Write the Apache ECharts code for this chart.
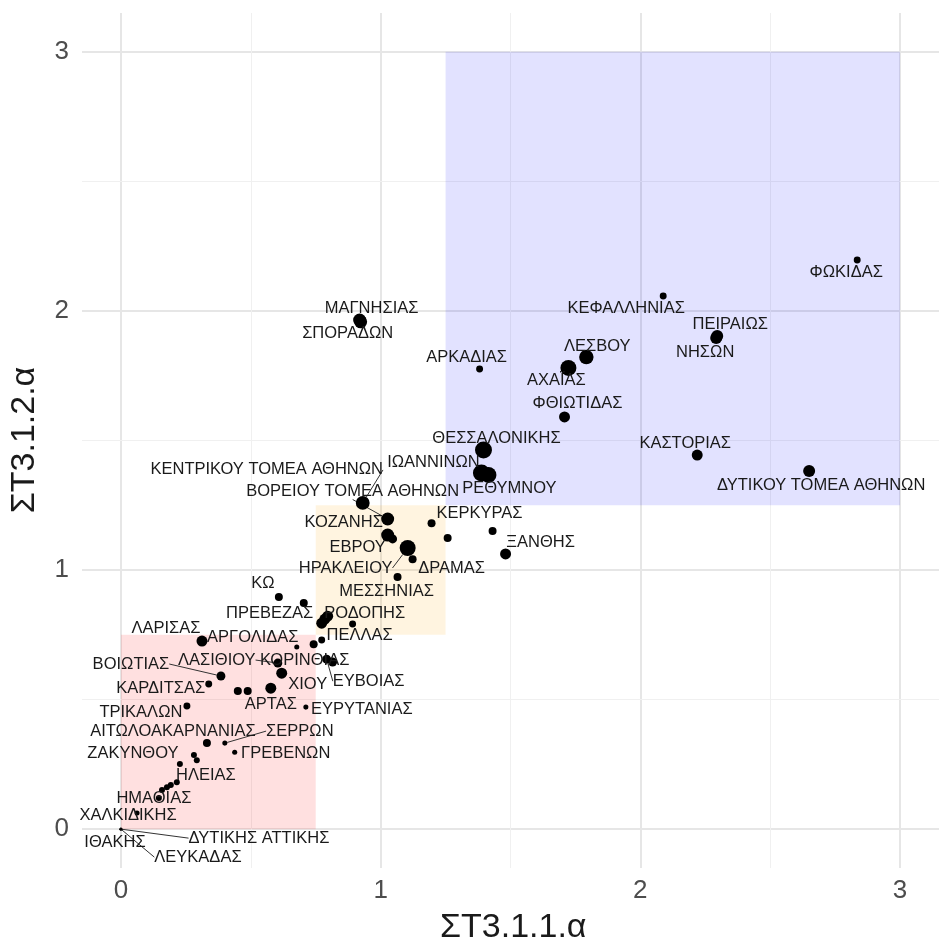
<!DOCTYPE html>
<html>
<head>
<meta charset="utf-8">
<script src="https://cdn.jsdelivr.net/npm/echarts@6/dist/echarts.min.js"></script>
<style>
html,body{margin:0;padding:0;background:#fff;}
#chart{width:939px;height:945px;}
</style>
</head>
<body>
<div id="chart"></div>
<script>
// ---- data ----
const names = ["ΦΩΚΙΔΑΣ","ΚΕΦΑΛΛΗΝΙΑΣ","ΠΕΙΡΑΙΩΣ","ΝΗΣΩΝ","ΛΕΣΒΟΥ","ΑΧΑΪΑΣ","ΑΡΚΑΔΙΑΣ","ΦΘΙΩΤΙΔΑΣ",
"ΘΕΣΣΑΛΟΝΙΚΗΣ","ΙΩΑΝΝΙΝΩΝ","ΡΕΘΥΜΝΟΥ","ΚΑΣΤΟΡΙΑΣ","ΔΥΤΙΚΟΥ ΤΟΜΕΑ ΑΘΗΝΩΝ","ΜΑΓΝΗΣΙΑΣ","ΣΠΟΡΑΔΩΝ",
"ΚΕΝΤΡΙΚΟΥ ΤΟΜΕΑ ΑΘΗΝΩΝ","ΒΟΡΕΙΟΥ ΤΟΜΕΑ ΑΘΗΝΩΝ","ΚΟΖΑΝΗΣ","ΕΒΡΟΥ","ΗΡΑΚΛΕΙΟΥ","ΔΡΑΜΑΣ","ΜΕΣΣΗΝΙΑΣ",
"ΚΕΡΚΥΡΑΣ","","","ΞΑΝΘΗΣ","ΚΩ","","ΡΟΔΟΠΗΣ","ΠΡΕΒΕΖΑΣ","","","ΠΕΛΛΑΣ","","ΑΡΓΟΛΙΔΑΣ","ΛΑΡΙΣΑΣ",
"ΛΑΣΙΘΙΟΥ","ΚΟΡΙΝΘΙΑΣ","ΕΥΒΟΙΑΣ","ΧΙΟΥ","ΑΡΤΑΣ","","","ΚΑΡΔΙΤΣΑΣ","ΒΟΙΩΤΙΑΣ","ΕΥΡΥΤΑΝΙΑΣ","ΤΡΙΚΑΛΩΝ",
"ΑΙΤΩΛΟΑΚΑΡΝΑΝΙΑΣ","ΣΕΡΡΩΝ","ΓΡΕΒΕΝΩΝ","ΖΑΚΥΝΘΟΥ","","ΗΛΕΙΑΣ","","","","","ΗΜΑΘΙΑΣ","ΧΑΛΚΙΔΙΚΗΣ",
"ΙΘΑΚΗΣ","ΔΥΤΙΚΗΣ ΑΤΤΙΚΗΣ","ΛΕΥΚΑΔΑΣ"];
const st311a = [2.835,2.088,2.296,2.292,1.792,1.723,1.381,1.708,
1.396,1.388,1.415,2.219,2.650,0.919,0.923,
0.931,1.027,1.027,1.046,1.104,1.123,1.065,
1.196,1.258,1.431,1.481,0.608,0.704,0.796,0.773,0.785,0.892,0.773,0.742,0.677,0.312,
0.604,0.815,0.792,0.619,0.577,0.450,0.488,0.338,0.385,0.712,0.254,
0.331,0.400,0.438,0.281,0.292,0.227,0.215,0.192,0.177,0.158,0.146,0.062,
0,0,0];
const st312a = [2.197,2.058,1.903,1.896,1.822,1.780,1.776,1.591,
1.463,1.375,1.367,1.444,1.382,1.965,1.958,
1.259,1.197,1.135,1.120,1.085,1.042,0.973,
1.181,1.124,1.151,1.062,0.896,0.873,0.822,0.795,0.811,0.792,0.730,0.714,0.703,0.726,
0.641,0.645,0.656,0.602,0.544,0.533,0.533,0.560,0.591,0.471,0.475,
0.332,0.332,0.297,0.286,0.266,0.251,0.181,0.170,0.162,0.151,0.120,0.062,
0,0,0];
const magnitude = [3,3,9,9,13,16,3,7.5,
18,18,16,7.5,9,10.5,10.5,
12,10.5,10.5,5,16,4,4,
4,4,4,7.5,4,4,7.5,7.5,7.5,3,3,4,1.6,7.5,
5,5,5,7.5,7.5,4,4,3,5,1.6,3,
4,1.6,1.6,2.25,2.25,2.25,2.25,2.25,2.25,2.25,2.25,1.6,
0.5,0.5,0.5];
const xTicks = [0,1,2,3];
const yTicks = [0,1,2,3];
const minorTicks = [0.5,1.5,2.5];
const zones = [
  {x:[1.25,3], y:[1.25,3], color:'rgba(0,0,255,0.115)'},
  {x:[0.75,1.25], y:[0.75,1.25], color:'rgba(255,165,0,0.12)'},
  {x:[0,0.75], y:[0,0.75], color:'rgba(255,0,0,0.12)'}
];

// ---- label layout (pixel shifts of label centre from point, like ggrepel) ----
const labelShift = [[-11,13],[-37,13],[13,-12],[-11,15],[11,-11],[-12,12],[-13,-12],[13,-13],
[13,-12],[-48,-10],[21,13],[-12,-12],[12,14],[12,-12],[-13,12],
[-96,-33],[-35,-28],[-44,-13],[-35,8],[-62,20],[39,9],[-11,14],
[48,-10],[0,0],[0,0],[35,-12],[-16,-14],[0,0],[37,-3],[-52,-10],[0,0],[0,0],[38,-5],[0,0],[-44,-10],[-36,-13],
[-61,-3],[-28,-2],[42,22],[26,11],[0,16],[0,0],[0,0],[-48,4],[-90,-12],[56,2],[-46,6],
[-34,-12],[75,-12],[51,1],[-61,-2],[0,0],[26,11],[0,0],[0,0],[0,0],[0,0],[-5,0],[-9,2],
[-6,13],[138,9],[77,28]];
const withLeader = ["ΚΕΝΤΡΙΚΟΥ ΤΟΜΕΑ ΑΘΗΝΩΝ","ΒΟΡΕΙΟΥ ΤΟΜΕΑ ΑΘΗΝΩΝ","ΗΡΑΚΛΕΙΟΥ","ΛΑΣΙΘΙΟΥ","ΕΥΒΟΙΑΣ",
"ΒΟΙΩΤΙΑΣ","ΣΕΡΡΩΝ","ΔΥΤΙΚΗΣ ΑΤΤΙΚΗΣ","ΛΕΥΚΑΔΑΣ"];

const points = names.map((n,i)=>({
  name:n,
  value:[st311a[i], st312a[i], magnitude[i]],
  label:{show: n !== ''},
  labelLine:{show: withLeader.indexOf(n) >= 0}
}));

const FONT = '"Liberation Sans", Arial, sans-serif';
const chart = echarts.init(document.getElementById('chart'), null, {renderer:'canvas'});
const majorStyle = {color:'#e6e6e6', width:2, type:'solid'};
const minorStyle = {color:'#f0f0f0', width:1, type:'solid'};

const gridLines = []
  .concat(xTicks.map(v=>({xAxis:v, lineStyle:majorStyle})))
  .concat(yTicks.map(v=>({yAxis:v, lineStyle:majorStyle})))
  .concat(minorTicks.map(v=>({xAxis:v, lineStyle:minorStyle})))
  .concat(minorTicks.map(v=>({yAxis:v, lineStyle:minorStyle})));

chart.setOption({
  animation:false,
  backgroundColor:'#ffffff',
  grid:{left:82, top:13, width:858, height:855, containLabel:false},
  xAxis:{
    type:'value', min:-0.15, max:3.15,
    axisLine:{show:false}, axisTick:{show:false}, splitLine:{show:false},
    axisLabel:{customValues:xTicks, color:'#4d4d4d', fontSize:26, fontFamily:FONT, margin:10}
  },
  yAxis:{
    type:'value', min:-0.15, max:3.15,
    axisLine:{show:false}, axisTick:{show:false}, splitLine:{show:false},
    axisLabel:{customValues:yTicks, color:'#4d4d4d', fontSize:26, fontFamily:FONT, margin:13}
  },
  graphic:[
    {type:'text', left:440, top:911, style:{text:'ΣΤ3.1.1.α', font:'34px "Liberation Sans", Arial, sans-serif', fill:'#1a1a1a'}},
    {type:'text', x:8, y:440, rotation:Math.PI/2, style:{text:'ΣΤ3.1.2.α', font:'34px "Liberation Sans", Arial, sans-serif', fill:'#1a1a1a', align:'center', verticalAlign:'top'}}
  ],
  series:[
    {
      type:'scatter', data:[], z:0, silent:true,
      markLine:{z:0, silent:true, symbol:['none','none'], label:{show:false}, animation:false, data:gridLines}
    },
    {
      type:'scatter', data:[], z:1, silent:true,
      markArea:{z:1, silent:true, animation:false, label:{show:false},
        data:zones.map(zn=>[{xAxis:zn.x[0], yAxis:zn.y[0], itemStyle:{color:zn.color}},{xAxis:zn.x[1], yAxis:zn.y[1]}])}
    },
    {
      type:'scatter', z:10,
      data:points,
      symbolSize:(v)=>4*Math.sqrt(v[2]),
      itemStyle:{color:'#000000', opacity:1},
      label:{
        show:true, position:'inside', formatter:'{b}',
        color:'#1a1a1a', fontSize:16.5, fontFamily:FONT,
        textBorderWidth:0, align:'center', verticalAlign:'middle'
      },
      labelLine:{lineStyle:{color:'#333', width:1}},
      labelLayout:(p)=>{
        const s = labelShift[p.dataIndex];
        return {dx:s[0], dy:s[1]};
      }
    }
  ]
});
</script>
</body>
</html>
